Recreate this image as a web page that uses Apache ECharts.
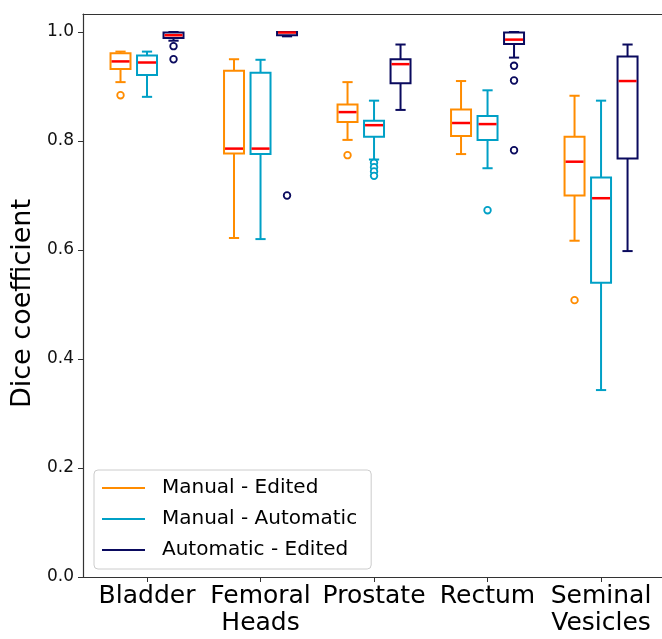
<!DOCTYPE html>
<html>
<head>
<meta charset="utf-8">
<script src="https://cdn.jsdelivr.net/npm/echarts@6/dist/echarts.min.js"></script>
<style>
  html, body { margin: 0; padding: 0; background: #fff; }
  #chart { width: 662px; height: 639px; }
</style>
</head>
<body>
<div id="chart"></div>
<script>
const categories = ['Bladder', 'Femoral\nHeads', 'Prostate', 'Rectum', 'Seminal\nVesicles']
const groupNames = ['Manual - Edited', 'Manual - Automatic', 'Automatic - Edited']
const yTicks = [0, 0.2, 0.4, 0.6, 0.8, 1.0]

// one row per category: [min, q1, median, q3, max]
const manualEdited = [
  [0.908, 0.932, 0.946, 0.961, 0.964],
  [0.622, 0.777, 0.786, 0.929, 0.950],
  [0.802, 0.835, 0.853, 0.867, 0.908],
  [0.776, 0.809, 0.833, 0.858, 0.910],
  [0.617, 0.700, 0.762, 0.808, 0.883]
]
const manualAutomatic = [
  [0.881, 0.921, 0.944, 0.957, 0.964],
  [0.620, 0.776, 0.786, 0.925, 0.949],
  [0.766, 0.808, 0.829, 0.837, 0.874],
  [0.750, 0.802, 0.831, 0.846, 0.893],
  [0.343, 0.540, 0.695, 0.733, 0.874]
]
const automaticEdited = [
  [0.984, 0.989, 0.994, 0.999, 1.000],
  [0.992, 0.994, 0.999, 1.000, 1.000],
  [0.857, 0.906, 0.941, 0.950, 0.977],
  [0.953, 0.978, 0.986, 0.999, 1.000],
  [0.598, 0.768, 0.910, 0.955, 0.977]
]

// outliers: [category index, value]
const manualEditedOut = [[0, 0.884], [2, 0.774], [4, 0.508]]
const manualAutomaticOut = [[2, 0.760], [2, 0.752], [2, 0.744], [2, 0.736], [3, 0.673]]
const automaticEditedOut = [[0, 0.974], [0, 0.950], [1, 0.700], [3, 0.938], [3, 0.911], [3, 0.783]]

const colors = ['#ff8c00', '#00a0c6', '#0a0a5e']
const medianColor = '#ff0000'
const groupOffset = 0.2335 // in category units
const boxFrac = 0.176
const capFrac = 0.09

function boxSeries(name, rows, color, k) {
  const off = (k - 1) * groupOffset
  return {
    name: name,
    type: 'custom',
    itemStyle: { color: color },
    encode: { x: 0, y: [1, 2, 3, 4, 5] },
    data: rows.map((r, i) => [i + 1].concat(r)),
    renderItem(params, api) {
      const x = api.value(0) + off
      const unit = api.size([1, 0])[0]
      const bw = unit * boxFrac
      const cw = unit * capFrac
      const pMin = api.coord([x, api.value(1)])
      const pQ1 = api.coord([x, api.value(2)])
      const pMed = api.coord([x, api.value(3)])
      const pQ3 = api.coord([x, api.value(4)])
      const pMax = api.coord([x, api.value(5)])
      const cx = pMed[0]
      const st = { stroke: color, lineWidth: 2 }
      return {
        type: 'group',
        children: [
          { type: 'line', shape: { x1: cx, y1: pMin[1], x2: cx, y2: pQ1[1] }, style: st },
          { type: 'line', shape: { x1: cx, y1: pQ3[1], x2: cx, y2: pMax[1] }, style: st },
          { type: 'line', shape: { x1: cx - cw / 2, y1: pMin[1], x2: cx + cw / 2, y2: pMin[1] }, style: st },
          { type: 'line', shape: { x1: cx - cw / 2, y1: pMax[1], x2: cx + cw / 2, y2: pMax[1] }, style: st },
          {
            type: 'rect',
            shape: { x: cx - bw / 2, y: pQ3[1], width: bw, height: pQ1[1] - pQ3[1] },
            style: { fill: 'none', stroke: color, lineWidth: 2 }
          },
          {
            type: 'line',
            shape: { x1: cx - bw / 2 + 1, y1: pMed[1], x2: cx + bw / 2 - 1, y2: pMed[1] },
            style: { stroke: medianColor, lineWidth: 2.5 }
          }
        ]
      }
    }
  }
}

function outlierSeries(name, pts, color, k) {
  const off = (k - 1) * groupOffset
  return {
    name: name,
    type: 'custom',
    itemStyle: { color: color },
    encode: { x: 0, y: 1 },
    data: pts.map(p => [p[0] + 1, p[1]]),
    renderItem(params, api) {
      const p = api.coord([api.value(0) + off, api.value(1)])
      return {
        type: 'circle',
        shape: { cx: p[0], cy: p[1], r: 3.3 },
        style: { fill: '#fff', stroke: color, lineWidth: 1.8 }
      }
    }
  }
}

const chart = echarts.init(document.getElementById('chart'))
chart.setOption({
  animation: false,
  textStyle: { fontFamily: 'DejaVu Sans' },
  grid: {
    left: 83,
    right: 0,
    top: 14,
    bottom: 62,
    show: false
  },
  legend: {
    orient: 'vertical',
    left: 94,
    top: 470,
    data: groupNames.map(n => ({ name: n, icon: 'rect' })),
    itemWidth: 43,
    itemHeight: 2,
    itemGap: 9,
    padding: [7, 14, 8, 8],
    borderColor: '#ccc',
    borderWidth: 1,
    borderRadius: 4,
    backgroundColor: '#fff',
    textStyle: {
      fontFamily: 'DejaVu Sans',
      fontSize: 20,
      color: '#000',
      lineHeight: 22,
      padding: [0, 0, 0, 12]
    }
  },
  xAxis: [
    {
      type: 'value',
      min: 0.436,
      max: 5.537,
      splitLine: { show: false },
      axisLine: { show: true, lineStyle: { color: '#333', width: 1.2 } },
      axisTick: { show: true, length: 5, customValues: [1, 2, 3, 4, 5], lineStyle: { color: '#333' } },
      axisLabel: {
        customValues: [1, 2, 3, 4, 5],
        formatter: v => categories[Math.round(v) - 1],
        fontFamily: 'DejaVu Sans',
        fontSize: 25,
        lineHeight: 27,
        color: '#000',
        margin: 6
      }
    },
    {
      // top spine only
      type: 'value',
      position: 'top',
      min: 0.436,
      max: 5.537,
      splitLine: { show: false },
      axisLine: { show: true, lineStyle: { color: '#333', width: 1.2 } },
      axisTick: { show: false },
      axisLabel: { show: false }
    }
  ],
  yAxis: {
    type: 'value',
    min: 0,
    max: 1.033,
    name: 'Dice coefficient',
    nameLocation: 'middle',
    nameRotate: 90,
    nameGap: 44,
    nameTextStyle: { fontFamily: 'DejaVu Sans', fontSize: 27, color: '#000', padding: [0, 16, 0, 0] },
    splitLine: { show: false },
    axisLine: { show: true, lineStyle: { color: '#333', width: 1.2 } },
    axisTick: { show: true, length: 5, customValues: yTicks, lineStyle: { color: '#333' } },
    axisLabel: {
      customValues: yTicks,
      formatter: v => v.toFixed(1),
      fontFamily: 'DejaVu Sans',
      fontSize: 17,
      color: '#111',
      margin: 9
    }
  },
  series: [
    boxSeries(groupNames[0], manualEdited, colors[0], 0),
    boxSeries(groupNames[1], manualAutomatic, colors[1], 1),
    boxSeries(groupNames[2], automaticEdited, colors[2], 2),
    outlierSeries(groupNames[0], manualEditedOut, colors[0], 0),
    outlierSeries(groupNames[1], manualAutomaticOut, colors[1], 1),
    outlierSeries(groupNames[2], automaticEditedOut, colors[2], 2)
  ]
})
</script>
</body>
</html>
